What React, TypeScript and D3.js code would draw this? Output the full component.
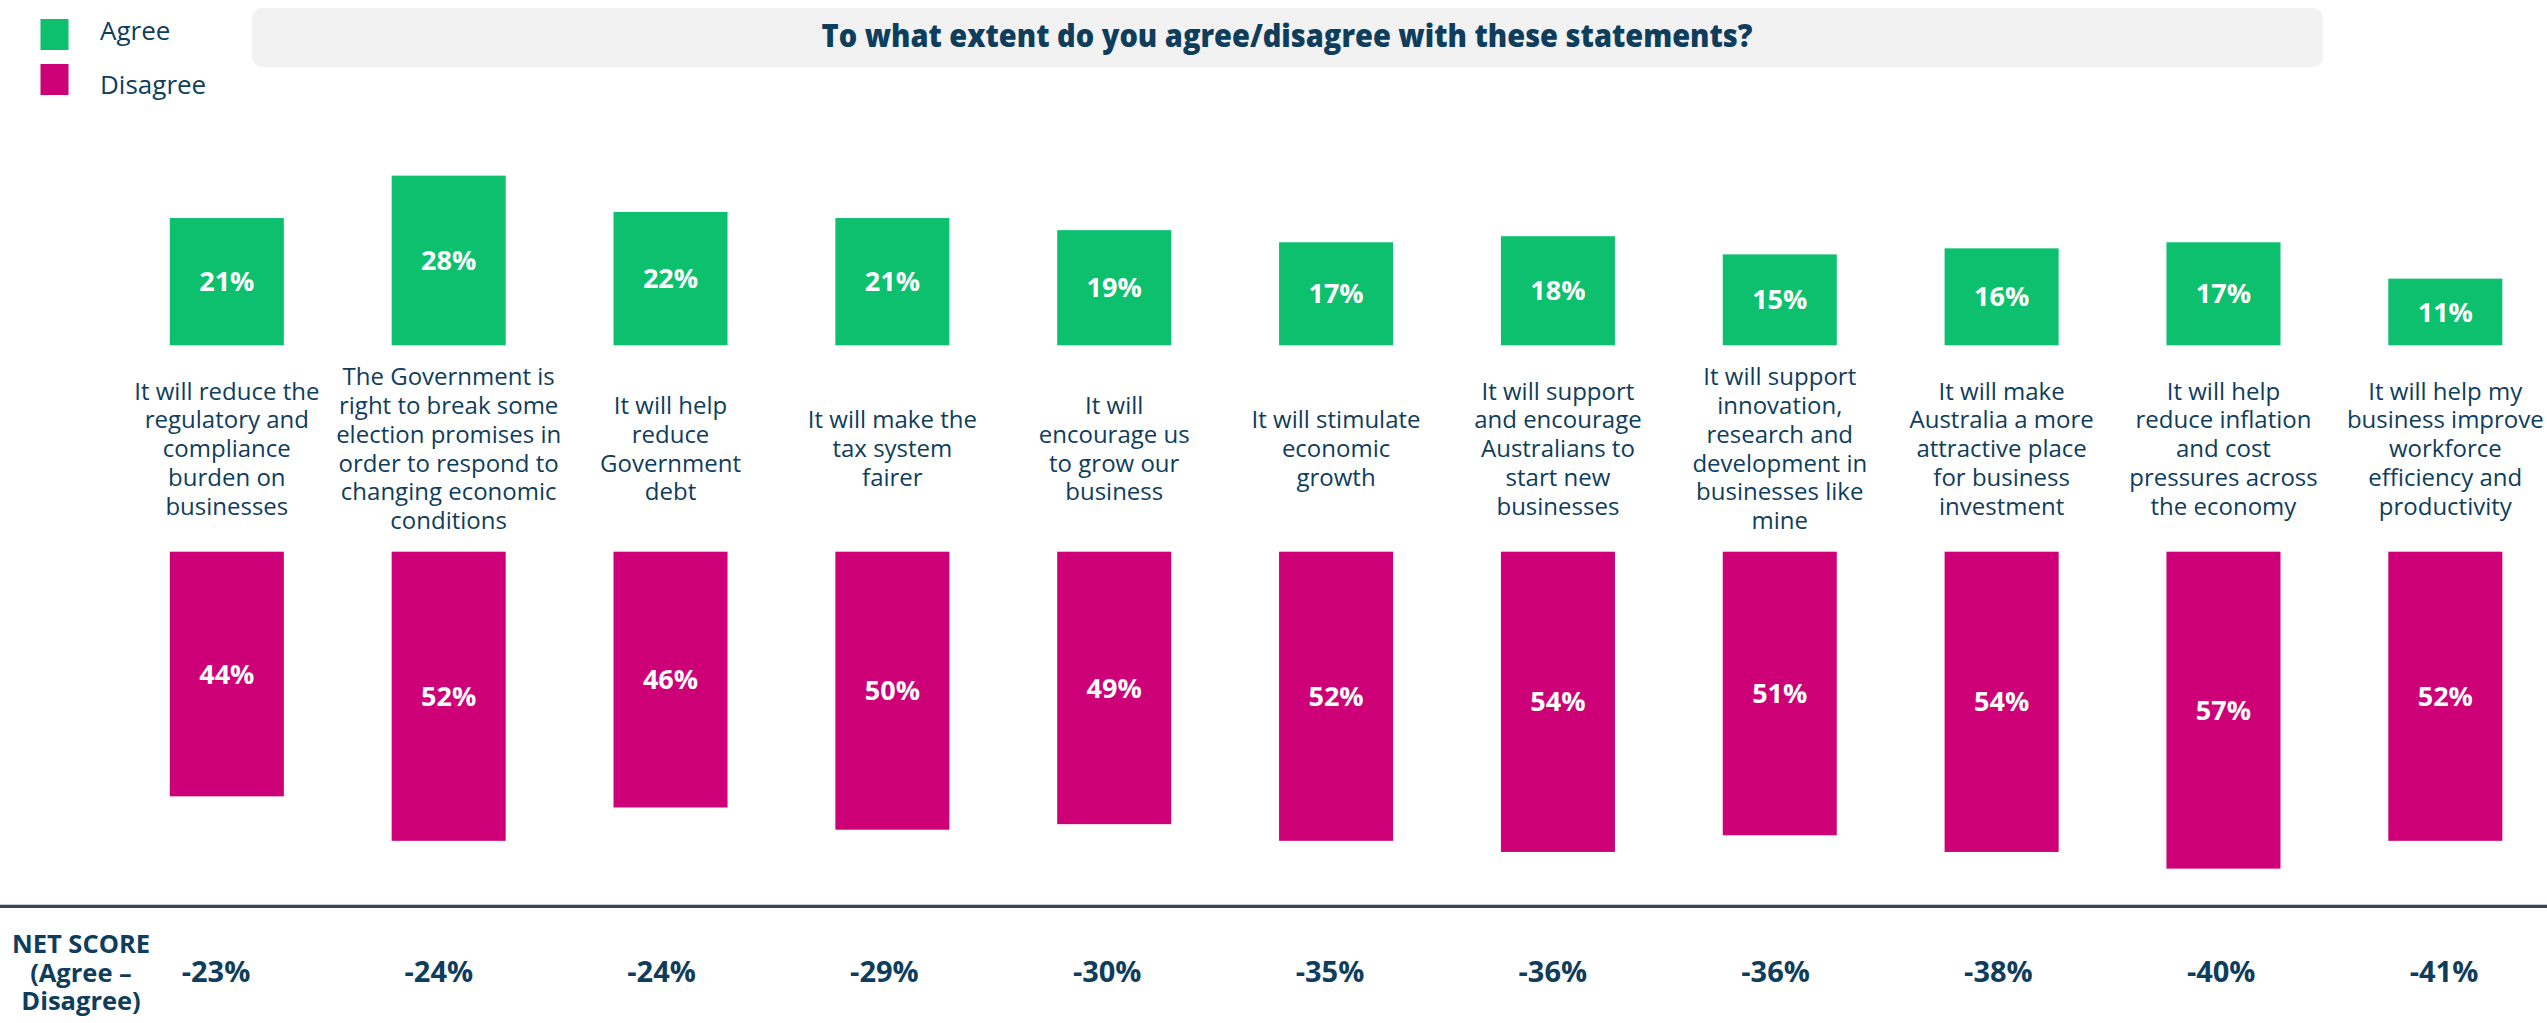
import React from "react";
import * as d3 from "d3";

const categories: string[][] = [
  ["It will reduce the", "regulatory and", "compliance", "burden on", "businesses"],
  ["The Government is", "right to break some", "election promises in", "order to respond to", "changing economic", "conditions"],
  ["It will help", "reduce", "Government", "debt"],
  ["It will make the", "tax system", "fairer"],
  ["It will", "encourage us", "to grow our", "business"],
  ["It will stimulate", "economic", "growth"],
  ["It will support", "and encourage", "Australians to", "start new", "businesses"],
  ["It will support", "innovation,", "research and", "development in", "businesses like", "mine"],
  ["It will make", "Australia a more", "attractive place", "for business", "investment"],
  ["It will help", "reduce inflation", "and cost", "pressures across", "the economy"],
  ["It will help my", "business improve", "workforce", "efficiency and", "productivity"],
];
const agree: number[] = [21, 28, 22, 21, 19, 17, 18, 15, 16, 17, 11];
const disagree: number[] = [44, 52, 46, 50, 49, 52, 54, 51, 54, 57, 52];
const netScore: number[] = [-23, -24, -24, -29, -30, -35, -36, -36, -38, -40, -41];
const seriesNames: string[] = ["Agree", "Disagree"];
const titleText = "To what extent do you agree/disagree with these statements?";
const netLabelLines: string[] = ["NET SCORE", "(Agree –", "Disagree)"];

const W = 2547;
const H = 1023;
const GREEN = "#0cc06e";
const MAGENTA = "#cd0078";
const NAVY = "#0f3d5c";
const FONT = "'Open Sans', 'Noto Sans', sans-serif";

export default function App() {
  const idx = categories.map((_, i) => String(i));
  const x = d3
    .scaleBand<string>()
    .domain(idx)
    .range([115.9, 2556.25])
    .paddingInner(0.486)
    .paddingOuter(0.243);
  const xNet = d3.scaleBand<string>().domain(idx).range([104.6, 104.6 + 11 * 222.8]);

  const agreeBase = 345.3;
  const yAgree = d3.scaleLinear().domain([0, 30]).range([agreeBase, agreeBase - 30 * 6.06]);
  const disTop = 551.7;
  const yDis = d3.scaleLinear().domain([0, 60]).range([disTop, disTop + 60 * 5.56]);

  const lh = 28.8;
  const labelCenter = 448.5;
  const fmt = (v: number) => `${v}%`;

  const legendSquareY = [19, 64];
  const legendTextY = [40, 93.5];

  return (
    <svg
      width={W}
      height={H}
      style={{ position: "absolute", left: 0, top: 0, background: "#fff" }}
      fontFamily={FONT}
    >
      {/* legend */}
      {seriesNames.map((s, i) => (
        <g key={s}>
          <rect x={40.5} y={legendSquareY[i]} width={28} height={31} fill={i === 0 ? GREEN : MAGENTA} />
          <text x={100} y={legendTextY[i]} fontSize={26} fill={NAVY}>
            {s}
          </text>
        </g>
      ))}

      {/* title box */}
      <rect x={252} y={8} width={2071} height={59} rx={10} fill="#f2f2f2" />
      <text
        x={1287}
        y={46.5}
        textAnchor="middle"
        fontSize={31}
        fontWeight={800}
        fill={NAVY}
        textLength={931}
        lengthAdjust="spacingAndGlyphs"
      >
        {titleText}
      </text>

      {/* agree bars */}
      {agree.map((v, i) => {
        const bx = x(String(i))!;
        const top = yAgree(v);
        return (
          <g key={"a" + i}>
            <rect x={bx} y={top} width={x.bandwidth()} height={yAgree(0) - top} fill={GREEN} />
            <text
              x={bx + x.bandwidth() / 2}
              y={(top + yAgree(0)) / 2 + 9.6}
              textAnchor="middle"
              fontSize={27}
              fontWeight={700}
              fill="#fff"
            >
              {fmt(v)}
            </text>
          </g>
        );
      })}

      {/* category labels */}
      {categories.map((lines, i) => {
        const cx = x(String(i))! + x.bandwidth() / 2;
        const n = lines.length;
        return (
          <text key={"l" + i} textAnchor="middle" fontSize={24} fill={NAVY}>
            {lines.map((ln, k) => (
              <tspan key={k} x={cx} y={labelCenter + (k - (n - 1) / 2) * lh + 8.6}>
                {ln}
              </tspan>
            ))}
          </text>
        );
      })}

      {/* disagree bars */}
      {disagree.map((v, i) => {
        const bx = x(String(i))!;
        const bottom = yDis(v);
        return (
          <g key={"d" + i}>
            <rect x={bx} y={yDis(0)} width={x.bandwidth()} height={bottom - yDis(0)} fill={MAGENTA} />
            <text
              x={bx + x.bandwidth() / 2}
              y={(yDis(0) + bottom) / 2 + 9.6}
              textAnchor="middle"
              fontSize={27}
              fontWeight={700}
              fill="#fff"
            >
              {fmt(v)}
            </text>
          </g>
        );
      })}

      {/* separator line */}
      <line x1={0} x2={W} y1={904.5} y2={904.5} stroke="#c9cbcd" strokeWidth={1} />
      <line x1={0} x2={W} y1={906.5} y2={906.5} stroke="#3b4551" strokeWidth={3} />

      {/* net score label */}
      <text textAnchor="middle" fontSize={25.5} fontWeight={700} fill={NAVY}>
        {netLabelLines.map((ln, k) => (
          <tspan key={k} x={81} y={953.3 + k * 28.3}>
            {ln}
          </tspan>
        ))}
      </text>

      {/* net score values */}
      {netScore.map((v, i) => (
        <text
          key={"n" + i}
          x={xNet(String(i))! + xNet.bandwidth() / 2}
          y={981.7}
          textAnchor="middle"
          fontSize={29}
          fontWeight={700}
          fill={NAVY}
        >
          {fmt(v)}
        </text>
      ))}
    </svg>
  );
}
